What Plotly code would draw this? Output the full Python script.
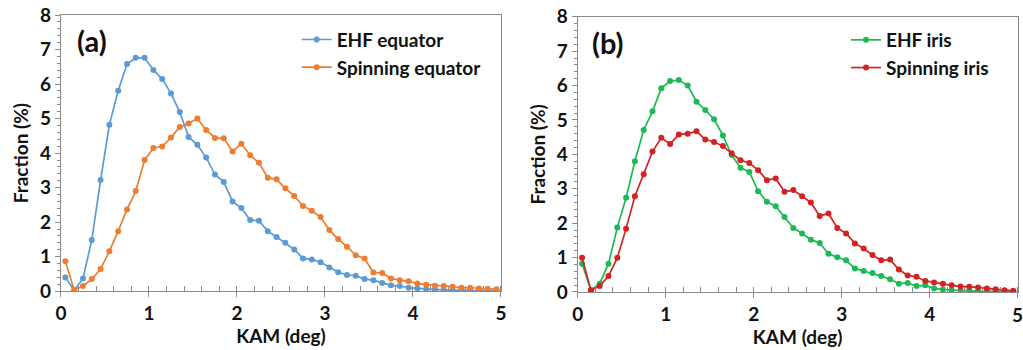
import plotly.graph_objects as go

# KAM bin centres (deg)
kam = [round(0.05 + 0.1 * i, 2) for i in range(50)]

ehf_equator = [0.40, 0.02, 0.37, 1.48, 3.22, 4.82, 5.81, 6.58, 6.76, 6.76,
               6.41, 6.15, 5.73, 5.19, 4.47, 4.24, 3.87, 3.38, 3.16, 2.60,
               2.41, 2.06, 2.04, 1.74, 1.57, 1.40, 1.21, 0.95, 0.92, 0.84,
               0.69, 0.55, 0.47, 0.45, 0.35, 0.32, 0.24, 0.17, 0.15, 0.10,
               0.08, 0.06, 0.05, 0.04, 0.03, 0.02, 0.02, 0.01, 0.01, 0.01]

spinning_equator = [0.87, 0.03, 0.15, 0.35, 0.64, 1.16, 1.74, 2.37, 2.90, 3.80,
                    4.15, 4.19, 4.45, 4.76, 4.86, 5.00, 4.67, 4.44, 4.43, 4.05,
                    4.27, 3.94, 3.72, 3.29, 3.24, 2.98, 2.76, 2.47, 2.33, 2.15,
                    1.77, 1.51, 1.29, 1.04, 0.95, 0.54, 0.53, 0.37, 0.32, 0.29,
                    0.22, 0.19, 0.16, 0.15, 0.13, 0.10, 0.10, 0.08, 0.07, 0.06]

ehf_iris = [0.82, 0.05, 0.24, 0.82, 1.87, 2.74, 3.80, 4.71, 5.25, 5.92,
            6.13, 6.16, 6.00, 5.53, 5.29, 5.02, 4.55, 3.98, 3.61, 3.49,
            2.93, 2.62, 2.49, 2.18, 1.86, 1.70, 1.52, 1.42, 1.11, 1.01,
            0.92, 0.68, 0.61, 0.55, 0.46, 0.37, 0.24, 0.26, 0.17, 0.19,
            0.10, 0.07, 0.05, 0.04, 0.03, 0.02, 0.01, 0.01, 0.01, 0.01]

spinning_iris = [0.99, 0.05, 0.17, 0.46, 0.99, 1.84, 2.78, 3.42, 4.08, 4.48,
                 4.30, 4.58, 4.60, 4.67, 4.43, 4.36, 4.24, 4.03, 3.83, 3.75,
                 3.54, 3.25, 3.30, 2.91, 2.96, 2.78, 2.60, 2.21, 2.28, 1.86,
                 1.70, 1.41, 1.26, 1.07, 0.92, 0.94, 0.65, 0.48, 0.44, 0.32,
                 0.27, 0.24, 0.19, 0.16, 0.15, 0.13, 0.10, 0.08, 0.05, 0.03]

x_ticks = [0, 1, 2, 3, 4, 5]

FONT = "Lato"
BLUE, ORANGE, GREEN, RED = "#5B9BD5", "#ED7D31", "#1DB954", "#D42222"

fig = go.Figure()


def add_series(y, name, color, xa, ya, legend):
    fig.add_trace(go.Scatter(
        x=kam, y=y, name=name, mode="lines+markers",
        line=dict(color=color, width=1.7),
        marker=dict(color=color, size=6),
        xaxis=xa, yaxis=ya, legend=legend,
    ))


add_series(ehf_equator, "EHF equator", BLUE, "x", "y", "legend")
add_series(spinning_equator, "Spinning equator", ORANGE, "x", "y", "legend")
add_series(ehf_iris, "EHF iris", GREEN, "x2", "y2", "legend2")
add_series(spinning_iris, "Spinning iris", RED, "x2", "y2", "legend2")

tick_font = dict(family=FONT, size=19, color="#111", weight="bold")
title_font = dict(family=FONT, size=19, color="#111", weight="bold")
AX = "#8a8a8a"

xcommon = dict(
    range=[0, 5], showgrid=False, zeroline=False, automargin=False,
    showline=True, linecolor=AX, linewidth=1.3, mirror=True,
    ticks="outside", ticklen=5, tickcolor=AX,
    minor=dict(dtick=0.2, ticks="inside", ticklen=5, tickcolor=AX),
    tickfont=tick_font,
    title=dict(text="KAM (deg)", font=title_font, standoff=1),
)
ycommon = dict(
    range=[0, 8], dtick=1, showgrid=False, zeroline=False, automargin=False,
    showline=True, linecolor=AX, linewidth=1.3, mirror=True,
    ticks="outside", ticklen=5, tickcolor=AX,
    minor=dict(dtick=0.2, ticks="outside", ticklen=3, tickcolor=AX),
    tickfont=tick_font,
    title=dict(text="Fraction (%)", font=title_font, standoff=6),
)

legend_common = dict(
    font=dict(family=FONT, size=19, color="#111", weight="bold"),
    bgcolor="rgba(0,0,0,0)", xanchor="left", yanchor="top",
    itemwidth=30, tracegroupgap=0,
)

fig.update_layout(
    width=1023, height=350,
    margin=dict(l=0, r=0, t=0, b=0),
    paper_bgcolor="white", plot_bgcolor="white",
    xaxis=dict(domain=[0.0596, 0.4897], anchor="y", tickvals=x_ticks, **xcommon),
    yaxis=dict(domain=[0.168, 0.957], anchor="x", **ycommon),
    xaxis2=dict(domain=[0.5647, 0.9948], anchor="y2", tickvals=x_ticks, **xcommon),
    yaxis2=dict(domain=[0.166, 0.952], anchor="x2", **ycommon),
    legend=dict(x=0.290, y=0.941, **legend_common),
    legend2=dict(x=0.827, y=0.94, **legend_common),
    annotations=[
        dict(text="(a)", x=0.073, y=0.885, xref="paper", yref="paper",
             xanchor="left", yanchor="middle", showarrow=False,
             font=dict(family=FONT, size=29, color="#111", weight="bold")),
        dict(text="(b)", x=0.577, y=0.88, xref="paper", yref="paper",
             xanchor="left", yanchor="middle", showarrow=False,
             font=dict(family=FONT, size=29, color="#111", weight="bold")),
        # last tick label of the right panel sits on the page edge, so it is
        # placed as an annotation at the axis value to keep it visible
        dict(text=str(x_ticks[-1]), x=x_ticks[-1], y=0.166, xref="x2",
             yref="paper", xanchor="center", yanchor="top", yshift=-9,
             showarrow=False, font=tick_font),
    ],
)

fig.write_html("out.html")
